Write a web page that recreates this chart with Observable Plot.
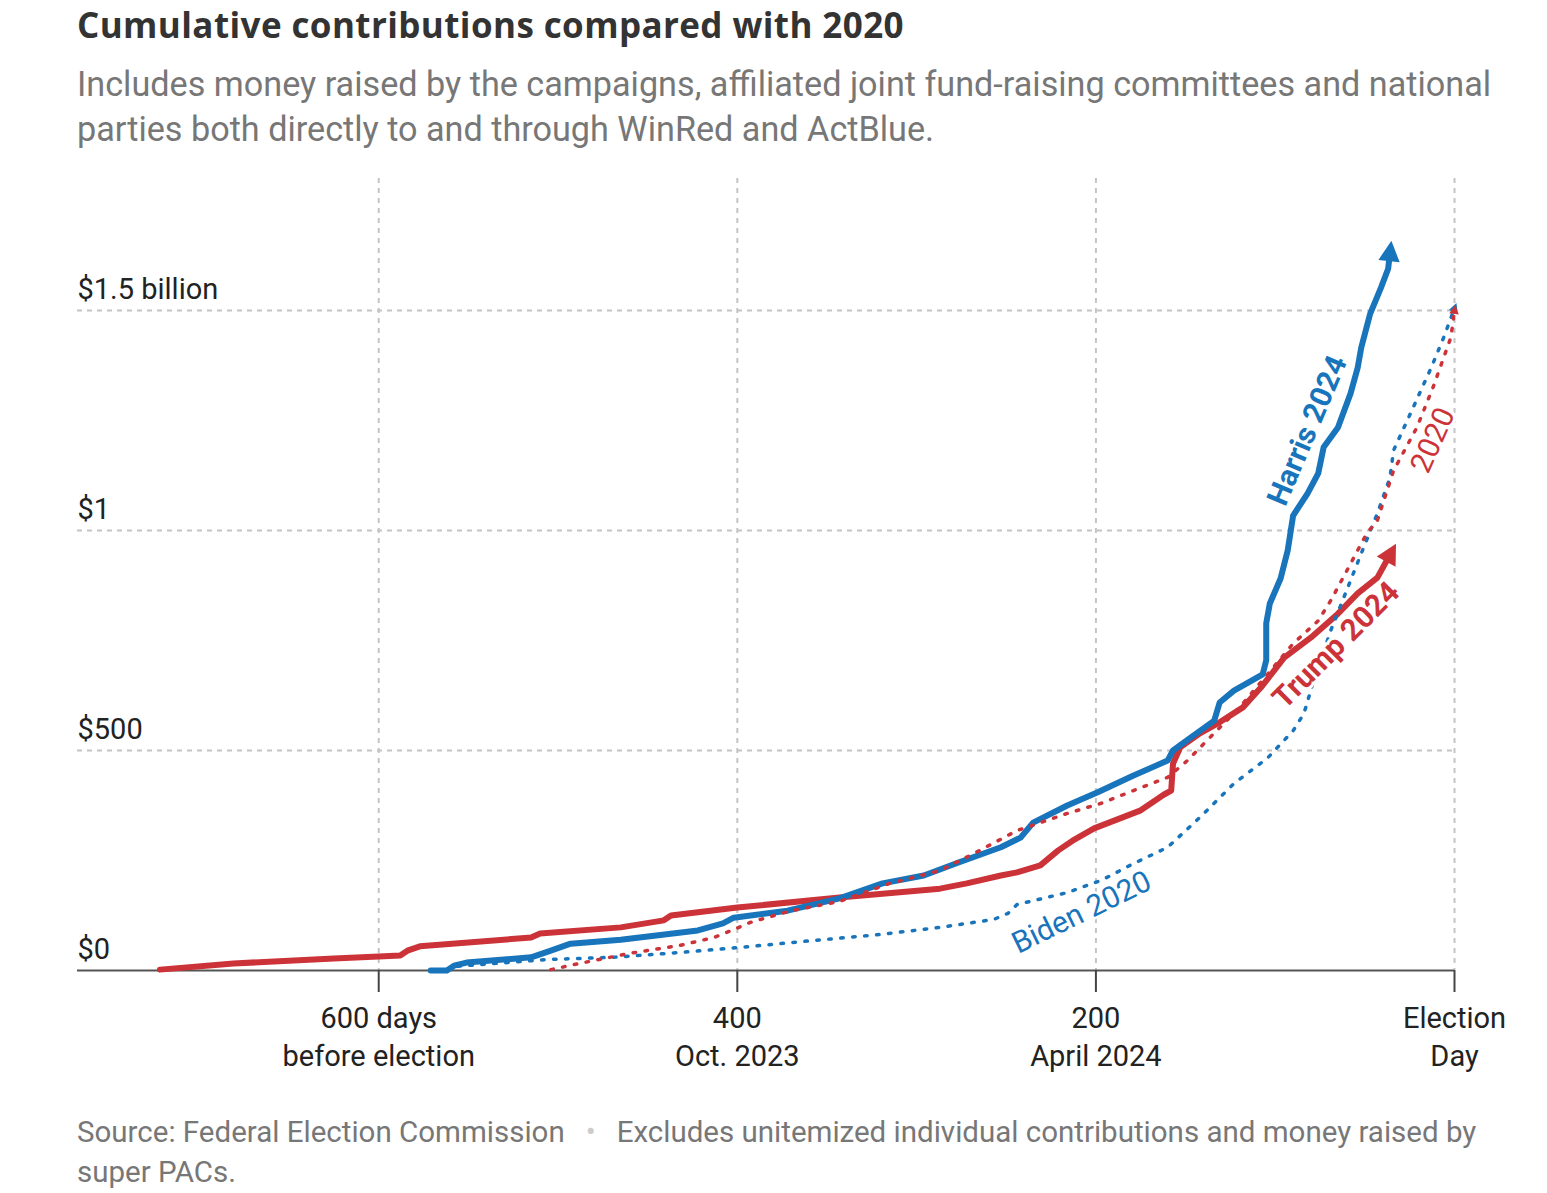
<!DOCTYPE html>
<html>
<head>
<meta charset="utf-8">
<script src="https://cdn.jsdelivr.net/npm/d3@7"></script>
<script src="https://cdn.jsdelivr.net/npm/@observablehq/plot@0.6"></script>
<style>
  body { margin: 0; background: #fff; font-family: Roboto, "Noto Sans", sans-serif; }
  #wrap { position: relative; width: 1547px; height: 1193px; overflow: hidden; }
  #title { position: absolute; left: 77px; top: 1px; font-family: "Open Sans", Roboto, sans-serif; font-size: 35px; line-height: 48px; font-weight: 700; color: #333; white-space: nowrap; letter-spacing: 0.4px; }
  #subtitle { position: absolute; left: 77px; top: 62px; width: 1450px; font-size: 34.2px; line-height: 45px; color: #777; }
  #chart { position: absolute; left: 0; top: 160px; }
  #footer { position: absolute; left: 77px; top: 1112px; width: 1450px; font-size: 29.5px; line-height: 40px; color: #777; }
  #footer div { white-space: nowrap; }
  #footer .dot::before { content: "\2022"; color: #ccc; margin: 0 21px; }
</style>
</head>
<body>
<div id="wrap">
  <div id="title">Cumulative contributions compared with 2020</div>
  <div id="subtitle">Includes money raised by the campaigns, affiliated joint fund-raising committees and national parties both directly to and through WinRed and ActBlue.</div>
  <div id="chart"></div>
  <div id="footer">
    <div><span>Source: Federal Election Commission</span><span class="dot"></span><span>Excludes unitemized individual contributions and money raised by</span></div>
    <div>super PACs.</div>
  </div>
</div>
<script>
// ---- Data (days before election, cumulative $ millions) ----
const trump2024Days = [722, 681, 625, 600, 588, 584, 577, 515, 510, 465, 441, 437, 400, 343, 287, 272, 253, 244, 231, 221, 213, 201, 175, 162, 158, 157, 153, 142, 131, 118, 108, 95, 80, 65, 54, 43, 36];
const trump2024Vals = [2, 16, 27, 32, 34, 45, 55, 75, 84, 98, 114, 125, 143, 166, 186, 198, 216, 223, 239, 273, 295, 323, 364, 400, 409, 470, 507, 539, 564, 598, 643, 711, 757, 811, 857, 893, 945];

const harris2024Days = [571, 562, 558, 551, 515, 504, 493, 465, 422, 408, 402, 372, 343, 319, 296, 277, 253, 242, 235, 216, 199, 179, 160, 157, 147, 134, 131, 123, 107, 105, 105, 103, 97, 93, 90, 82, 76, 73, 65, 58, 54, 52, 47, 41, 37, 36];
const harris2024Vals = [0, 0, 11, 18, 30, 45, 61, 70, 91, 107, 120, 136, 164, 198, 216, 245, 280, 302, 336, 375, 405, 443, 477, 500, 530, 568, 609, 636, 673, 705, 789, 834, 891, 955, 1034, 1084, 1130, 1189, 1234, 1311, 1370, 1416, 1493, 1552, 1595, 1630];

const biden2020Days = [562, 558, 506, 469, 432, 400, 358, 320, 287, 257, 249, 244, 216, 197, 179, 160, 142, 123, 104, 90, 84, 79, 69, 62, 52, 43, 36, 34, 23, 13, 6, 0];
const biden2020Vals = [0, 9, 25, 30, 41, 52, 68, 82, 98, 116, 130, 150, 177, 205, 243, 280, 348, 425, 484, 545, 584, 652, 773, 845, 948, 1039, 1120, 1182, 1280, 1370, 1439, 1505];

const trump2020Days = [504, 488, 460, 432, 413, 402, 393, 370, 343, 315, 287, 268, 244, 216, 197, 179, 160, 149, 138, 127, 118, 101, 90, 76, 69, 60, 49, 43, 34, 21, 12, 2, 0];
const trump2020Vals = [2, 16, 39, 57, 75, 93, 109, 136, 157, 198, 227, 266, 318, 357, 380, 409, 439, 477, 523, 568, 607, 689, 743, 795, 841, 909, 993, 1023, 1136, 1234, 1325, 1439, 1500];

const xTicks = [600, 400, 200, 0];
const xTickLabels = ["600 days\nbefore election", "400\nOct. 2023", "200\nApril 2024", "Election\nDay"];
const yTicks = [0, 500, 1000, 1500];
const yTickLabels = ["$0", "$500", "$1", "$1.5 billion"];

const labelTexts = ["Harris 2024", "Trump 2024", "Biden 2020", "2020"];
const labelDays = [82, 66, 208, 12];
const labelVals = [1227, 739, 132, 1205];

// ---- Build ----
const RED = "#cc3339";
const BLUE = "#1874bb";
const toRows = (days, vals) => days.map((d, i) => ({day: d, value: vals[i]}));
const trump2024 = toRows(trump2024Days, trump2024Vals);
const harris2024 = toRows(harris2024Days, harris2024Vals);
const biden2020 = toRows(biden2020Days, biden2020Vals);
const trump2020 = toRows(trump2020Days, trump2020Vals);
const labels = labelTexts.map((t, i) => ({text: t, day: labelDays[i], value: labelVals[i]}));

function filledArrow(size) {
  return (color, context) => {
    const doc = (context && context.document) || document;
    const ns = "http://www.w3.org/2000/svg";
    const m = doc.createElementNS(ns, "marker");
    m.setAttribute("viewBox", "-4 -4 8 8");
    m.setAttribute("markerWidth", size);
    m.setAttribute("markerHeight", size);
    m.setAttribute("orient", "auto");
    m.setAttribute("fill", color);
    m.setAttribute("stroke", "none");
    const p = doc.createElementNS(ns, "path");
    p.setAttribute("d", "M-2.5,-3.4L4,0L-2.5,3.4Z");
    m.appendChild(p);
    return m;
  };
}

const grid = {stroke: "#c4c4c4", strokeWidth: 2, strokeDasharray: "5,5", strokeOpacity: 1};
const dotted = {strokeWidth: 3.5, strokeDasharray: "2.5,9.5", strokeLinecap: "round", markerEnd: filledArrow(3.2)};
const solid = {strokeWidth: 6, strokeLinecap: "round", strokeLinejoin: "round", markerEnd: filledArrow(4.2)};
const FS = 29;

const chart = Plot.plot({
  width: 1547,
  height: 915,
  marginLeft: 77,
  marginRight: 93,
  marginTop: 18,
  marginBottom: 105,
  x: {domain: [768, 0], axis: null},
  y: {domain: [0, 1800], axis: null},
  style: {fontFamily: "Roboto, 'Noto Sans', sans-serif", fontSize: FS + "px", color: "#222", background: "white", overflow: "visible"},
  marks: [
    Plot.ruleX(xTicks, {x: d => d, ...grid}),
    Plot.ruleY(yTicks.filter(d => d > 0), {y: d => d, ...grid}),
    Plot.ruleY([0], {stroke: "#555", strokeWidth: 2}),
    Plot.axisX(xTicks, {
      label: null,
      tickSize: 22, tickPadding: 9, stroke: "#444", strokeWidth: 2,
      tickFormat: d => xTickLabels[xTicks.indexOf(d)],
      fontSize: FS, lineHeight: 1.31, fill: "#222", textAnchor: "middle"
    }),
    Plot.text(yTicks, {
      y: d => d, text: d => yTickLabels[yTicks.indexOf(d)], frameAnchor: "left",
      textAnchor: "start", lineAnchor: "bottom", dy: -12, fontSize: FS, fill: "#222"
    }),
    Plot.line(trump2024, {x: "day", y: "value", stroke: RED, ...solid}),
    Plot.line(harris2024, {x: "day", y: "value", stroke: BLUE, ...solid}),
    Plot.line(biden2020, {x: "day", y: "value", stroke: BLUE, ...dotted}),
    Plot.line(trump2020, {x: "day", y: "value", stroke: RED, ...dotted}),
    Plot.text(labels.filter(d => d.text === "Harris 2024"), {x: "day", y: "value", text: "text", rotate: -67, fill: BLUE, fontWeight: 700, fontSize: 30, stroke: "white", strokeWidth: 6}),
    Plot.text(labels.filter(d => d.text === "Trump 2024"), {x: "day", y: "value", text: "text", rotate: -45, fill: RED, fontWeight: 700, fontSize: 30, stroke: "white", strokeWidth: 6}),
    Plot.text(labels.filter(d => d.text === "Biden 2020"), {x: "day", y: "value", text: "text", rotate: -26, fill: BLUE, fontSize: 30, stroke: "white", strokeWidth: 5}),
    Plot.text(labels.filter(d => d.text === "2020"), {x: "day", y: "value", text: "text", rotate: -66, fill: RED, fontSize: 30, stroke: "white", strokeWidth: 6})
  ]
});
document.getElementById("chart").appendChild(chart);
</script>
</body>
</html>
